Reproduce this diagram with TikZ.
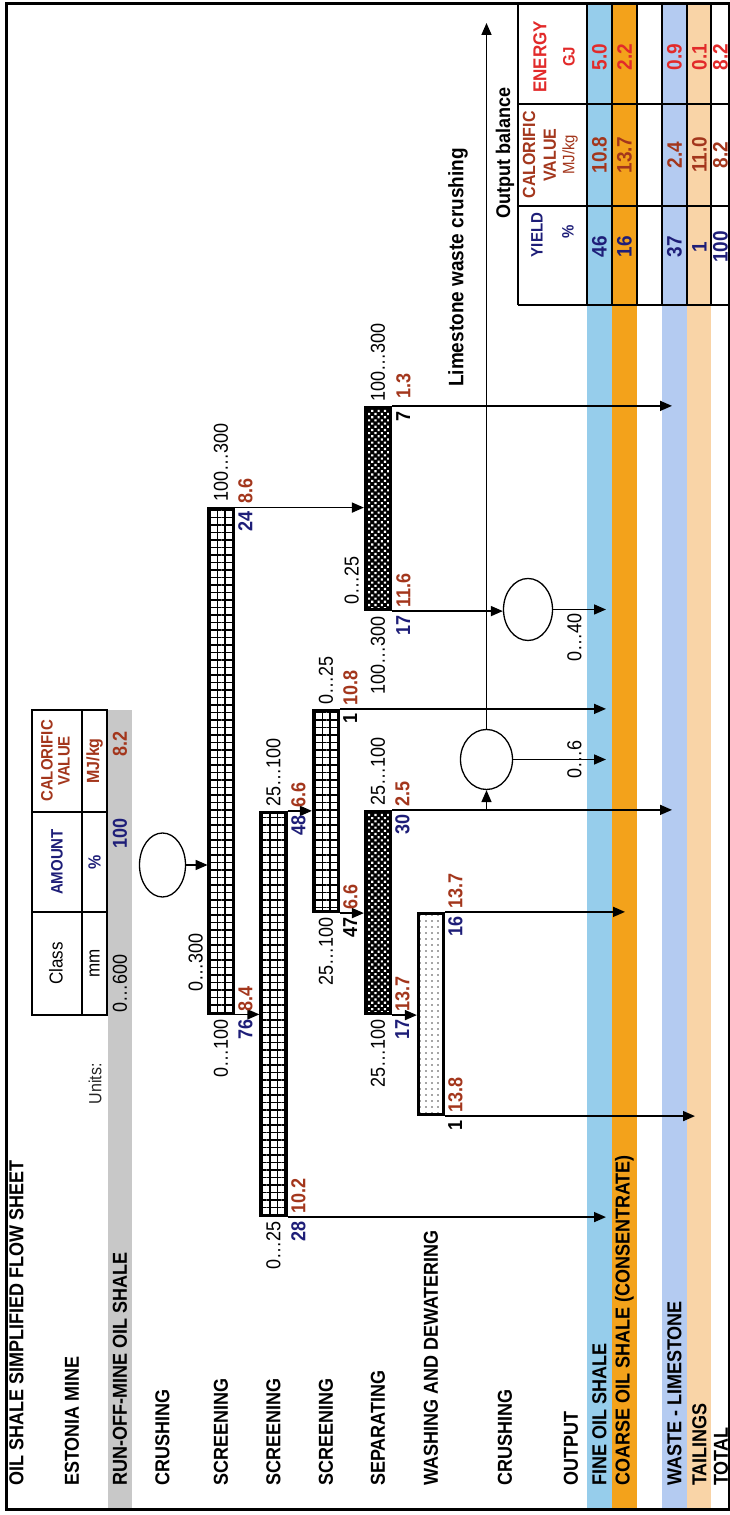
\documentclass[tikz,border=0pt]{standalone}
\usepackage{fontspec}
\setmainfont{Liberation Sans}
\usetikzlibrary{arrows.meta,patterns.meta,shapes.geometric}
\definecolor{navy}{HTML}{1E1E78}
\definecolor{rust}{HTML}{A3361C}
\definecolor{energy}{HTML}{E22A2A}
\definecolor{rombg}{HTML}{C8C8C8}
\definecolor{fineband}{HTML}{96CDEB}
\definecolor{coarseband}{HTML}{F3A21B}
\definecolor{wasteband}{HTML}{B4CBF1}
\definecolor{tailband}{HTML}{F9D4A7}
\newcommand{\fsz}[1]{\fontsize{#1}{#1}\selectfont}

\tikzset{
  lbl/.style={font=\bfseries\fsz{18}, anchor=west, inner sep=0pt, yscale=1.12},
  cls/.style={font=\fsz{18}, inner sep=0pt, yscale=1.12},
  amt/.style={font=\bfseries\fsz{18}, text=navy, anchor=north east, inner sep=0pt, yscale=1.12},
  cal/.style={font=\bfseries\fsz{18}, text=rust, anchor=north west, inner sep=0pt, yscale=1.12},
  screen/.style={draw, line width=3.2pt, minimum height=25pt, minimum width=#1, inner sep=0pt,
    pattern={Hatch[angle=0,distance=7.5pt,line width=1.8pt]}},
  sepbox/.style={draw, line width=3.2pt, minimum height=25pt, minimum width=#1, inner sep=0pt,
    preaction={fill=black}, pattern={Dots[distance=4.5pt,radius=1.5pt,angle=45]}, pattern color=white},
  washbox/.style={draw, line width=3.2pt, minimum height=25pt, minimum width=#1, inner sep=0pt,
    pattern={Dots[distance=6pt,radius=0.8pt]}, pattern color=black!70},
  crush/.style={draw, ellipse, line width=1.3pt, inner sep=0pt},
  flow/.style={line width=1.6pt, -{Triangle[length=12pt,width=10pt]}},
  tabline/.style={line width=1.8pt},
  head/.style={font=\bfseries\fsz{#1}, inner sep=0pt, yscale=1.1},
}

\begin{document}
\begin{tikzpicture}[x=1pt,y=1pt]
  \useasboundingbox (0,0) rectangle (730,1515);
  \fill[white] (0,0) rectangle (730,1515);
  \begin{scope}[rotate=90, transform shape]
    % bands
    \fill[rombg] (5,-108) rectangle (805,-132);
    \fill[fineband] (5,-587) rectangle (1511,-612);
    \fill[coarseband] (5,-612) rectangle (1511,-637);
    \fill[wasteband] (5,-662) rectangle (1511,-687);
    \fill[tailband] (5,-687) rectangle (1511,-711);
    \coordinate (fine) at (0,-606);
    \coordinate (coarse) at (0,-625);
    \coordinate (waste) at (0,-672);
    \coordinate (tails) at (0,-695);
    \coordinate (lime) at (1492,0);
    \draw[line width=3pt] (5,-6) rectangle (1511,-729);

    % row labels
    \node[lbl] at (29,-16.5) {OIL SHALE SIMPLIFIED FLOW SHEET};
    \node[lbl] at (29,-72) {ESTONIA MINE};
    \node[lbl] at (29,-120) {RUN-OFF-MINE OIL SHALE};
    \node[lbl] at (29,-162.5) {CRUSHING};
    \node[lbl] at (29,-221) {SCREENING};
    \node[lbl] at (29,-273.5) {SCREENING};
    \node[lbl] at (29,-326) {SCREENING};
    \node[lbl] at (29,-378) {SEPARATING};
    \node[lbl] at (29,-431) {WASHING AND DEWATERING};
    \node[lbl] at (29,-505) {CRUSHING};
    \node[lbl] at (29,-571) {OUTPUT};
    \node[lbl] at (29,-599.5) {FINE OIL SHALE};
    \node[lbl] at (29,-624.5) {COARSE OIL SHALE (CONSENTRATE)};
    \node[lbl] at (29,-674.5) {WASTE - LIMESTONE};
    \node[lbl] at (29,-699.5) {TAILINGS};
    \node[lbl] at (29,-721) {TOTAL};

    % feed table
    \node[font=\fsz{16}, text=black!85, anchor=east, inner sep=0pt, yscale=1.1] at (452,-95) {Units:};
    \draw[line width=1.8pt] (500,-32) rectangle (805,-107);
    \draw[line width=1.8pt] (500,-82) -- (805,-82) (603,-32) -- (603,-107) (703,-32) -- (703,-107);
    \node[font=\fsz{17}, inner sep=0pt, yscale=1.1] at (551.5,-56) {Class};
    \node[font=\fsz{17}, inner sep=0pt, yscale=1.1] at (551.5,-94.5) {mm};
    \node[head=15, text=navy] at (653,-57) {AMOUNT};
    \node[head=16, text=navy] at (653,-94.5) {\%};
    \node[head=15, text=rust] at (754,-47) {CALORIFIC};
    \node[head=15, text=rust] at (754,-64) {VALUE};
    \node[head=16, text=rust] at (754,-94.5) {MJ/kg};
    \node[cls, anchor=west] at (502,-120) {0…600};
    \node[amt, anchor=east] at (697,-120) {100};
    \node[cal, anchor=east] at (784,-120) {8.2};

    % process units
    \node[crush, minimum width=64pt, minimum height=46pt] (cr1) at (650,-162.5) {};
    \node[screen=505pt] (scr1) at (754,-221) {};
    \node[screen=403pt] (scr2) at (501,-273.5) {};
    \node[screen=201pt] (scr3) at (704,-326) {};
    \node[sepbox=202pt] (sep1) at (602.5,-378) {};
    \node[sepbox=202pt] (sep2) at (1006.5,-378) {};
    \node[washbox=201pt] (wash) at (501,-431) {};
    \node[crush, minimum width=60pt, minimum height=52pt] (cr2) at (755.5,-486.5) {};
    \node[crush, minimum width=62pt, minimum height=49pt] (cr3) at (905.5,-528) {};

    % size classes
    \node[cls, anchor=south west] at (523,-203) {0…300};
    \node[cls, anchor=east] at (496,-221) {0…100};
    \node[cls, anchor=west] at (1013,-221) {100…300};
    \node[cls, anchor=east] at (294,-273.5) {0…25};
    \node[cls, anchor=west] at (708,-273.5) {25…100};
    \node[cls, anchor=east] at (598,-326) {25…100};
    \node[cls, anchor=west] at (810,-326) {0…25};
    \node[cls, anchor=east] at (496,-378) {25…100};
    \node[cls, anchor=west] at (709,-378) {25…100};
    \node[cls, anchor=south west] at (910,-359) {0…25};
    \node[cls, anchor=east] at (899,-378) {100…300};
    \node[cls, anchor=west] at (1113,-378) {100…300};
    \node[cls] at (755.5,-574.5) {0…6};
    \node[cls, anchor=east] at (902,-574.5) {0…40};

    % flows
    \draw[flow] (cr1.south) -- (cr1.south |- scr1.north);
    \draw[flow] (scr1.south west) -- (scr1.south west |- scr2.north);
    \draw[flow] (scr1.south east) -- (scr1.south east |- sep2.north);
    \draw[flow] (scr2.south west) -- (scr2.south west |- fine);
    \draw[flow] (scr2.south east) -- (scr2.south east |- scr3.north);
    \draw[flow] (scr3.south west) -- (scr3.south west |- sep1.north);
    \draw[flow] (scr3.south east) -- (scr3.south east |- fine);
    \draw[flow] (sep1.south west) -- (sep1.south west |- wash.north);
    \draw[flow] (sep1.south east) -- (sep1.south east |- waste);
    \draw[flow] (sep1.south east |- cr2.west) -- (cr2.west);
    \draw[flow] (sep2.south west) -- (sep2.south west |- cr3.north);
    \draw[flow] (sep2.south east) -- (sep2.south east |- waste);
    \draw[flow] (wash.south east) -- (wash.south east |- coarse);
    \draw[flow] (wash.south west) -- (wash.south west |- tails);
    \draw[flow] (cr2.south) -- (cr2.south |- fine);
    \draw[flow] (cr3.south) -- (cr3.south |- fine);
    \draw[flow] (cr2.east) -- (cr2.east -| lime);

    % amounts and calorific values
    \node[amt] at (496,-238) {76};    \node[cal] at (503,-238) {8.4};
    \node[amt] at (1004,-238) {24};   \node[cal] at (1011,-238) {8.6};
    \node[amt] at (294,-291) {28};    \node[cal] at (301,-291) {10.2};
    \node[amt] at (700,-291) {48};    \node[cal] at (707,-291) {6.6};
    \node[amt, text=black] at (598,-343) {47}; \node[cal] at (605,-343) {6.6};
    \node[amt, text=black] at (802,-343) {1};  \node[cal] at (809,-343) {10.8};
    \node[amt] at (496,-395) {17};    \node[cal] at (503,-395) {13.7};
    \node[amt] at (701,-395) {30};    \node[cal] at (708,-395) {2.5};
    \node[amt] at (900,-396) {17};    \node[cal] at (907,-396) {11.6};
    \node[amt, text=black] at (1104,-396) {7}; \node[cal] at (1116,-396) {1.3};
    \node[amt] at (599,-448) {16};    \node[cal] at (606,-448) {13.7};
    \node[amt, text=black] at (395,-448) {1};  \node[cal] at (402,-448) {13.8};

    \node[font=\bfseries\fsz{19}, anchor=west, inner sep=0pt, yscale=1.1] at (1128,-458) {Limestone waste crushing};

    % output balance
    \node[head=18] at (1362,-505) {Output balance};
    \foreach \v in {-518,-587,-612,-637,-662,-687,-711}
      \draw[tabline] (1210,\v) -- (1511,\v);
    \foreach \u in {1210,1309,1411}
      \draw[tabline] (\u,-518) -- (\u,-730);
    \node[head=15, text=navy] at (1280,-537) {YIELD};
    \node[head=15, text=navy] at (1283,-568) {\%};
    \node[head=16, text=rust] at (1360,-529) {CALORIFIC};
    \node[head=16, text=rust] at (1360,-550) {VALUE};
    \node[font=\fsz{15}, text=rust, inner sep=0pt, yscale=1.1] at (1360,-570) {MJ/kg};
    \node[head=17, text=energy] at (1458,-540) {ENERGY};
    \node[head=15, text=energy] at (1458,-569) {GJ};
    \foreach \v/\y/\c/\e in {-599.5/46/10.8/5.0, -624.5/16/13.7/2.2, -674.5/37/2.4/0.9,
                             -699.5/1/11.0/0.1, -720.5/100/8.2/8.2} {
      \node[head=19, text=navy] at (1268,\v) {\y};
      \node[head=19, text=rust] at (1360,\v) {\c};
      \node[head=19, text=energy] at (1458,\v) {\e};
    }
  \end{scope}
\end{tikzpicture}
\end{document}
